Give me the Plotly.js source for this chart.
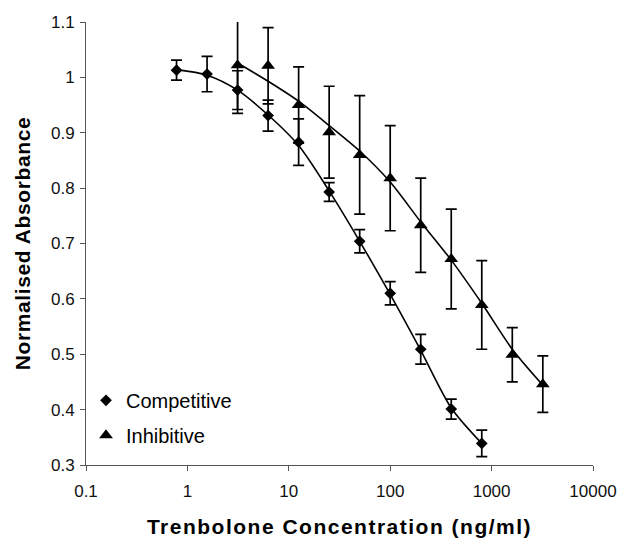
<!DOCTYPE html>
<html>
<head>
<meta charset="utf-8">
<script src="https://cdn.plot.ly/plotly-3.0.1.min.js"></script>
<style>
html, body { margin: 0; padding: 0; background: #fff; }
#chart { width: 623px; height: 538px; }
.xtitle { letter-spacing: 1.5px; }
.ytitle { letter-spacing: 0.6px; }
</style>
</head>
<body>
<div id="chart"></div>
<script>
// Concentrations (ng/ml)
const compX = [0.78125, 1.5625, 3.125, 6.25, 12.5, 25, 50, 100, 200, 400, 800];
const compY = [1.013, 1.006, 0.977, 0.931, 0.883, 0.793, 0.704, 0.610, 0.509, 0.401, 0.339];
const compErr = [0.018, 0.032, 0.035, 0.028, 0.042, 0.017, 0.021, 0.021, 0.027, 0.018, 0.024];
const compFit = [1.014, 1.004, 0.977, 0.932, 0.877, 0.795, 0.704, 0.608, 0.507, 0.403, 0.339];

const inhX = [3.125, 6.25, 12.5, 25, 50, 100, 200, 400, 800, 1600, 3200];
const inhY = [1.022, 1.021, 0.950, 0.901, 0.860, 0.818, 0.733, 0.672, 0.589, 0.499, 0.446];
const inhErr = [0.087, 0.069, 0.069, 0.083, 0.107, 0.095, 0.085, 0.090, 0.080, 0.049, 0.051];
const inhFit = [1.026, 0.993, 0.957, 0.913, 0.867, 0.811, 0.739, 0.670, 0.592, 0.509, 0.444];

const xTickVals = [0.1, 1, 10, 100, 1000, 10000];
const xTickText = ['0.1', '1', '10', '100', '1000', '10000'];
const yTickVals = [0.3, 0.4, 0.5, 0.6, 0.7, 0.8, 0.9, 1.0, 1.1];
const yTickText = ['0.3', '0.4', '0.5', '0.6', '0.7', '0.8', '0.9', '1', '1.1'];

const seriesNames = ['Competitive', 'Inhibitive'];

const traces = [
  {
    x: compX, y: compFit, mode: 'lines', type: 'scatter', showlegend: false,
    line: { color: '#000', width: 1.6, shape: 'spline', smoothing: 0.8 }, hoverinfo: 'skip'
  },
  {
    x: inhX, y: inhFit, mode: 'lines', type: 'scatter', showlegend: false,
    line: { color: '#000', width: 1.6, shape: 'spline', smoothing: 0.8 }, hoverinfo: 'skip'
  },
  {
    x: compX, y: compY, name: seriesNames[0], legendgroup: 'g1', mode: 'markers', type: 'scatter',
    marker: { symbol: 'diamond', size: 9, color: '#000' },
    error_y: { type: 'data', array: compErr, visible: true, color: '#000', thickness: 1.7, width: 5.5 }
  },
  {
    x: inhX, y: inhY, name: seriesNames[1], legendgroup: 'g2', mode: 'markers', type: 'scatter',
    marker: { symbol: 'triangle-up', size: 12, color: '#000' },
    error_y: { type: 'data', array: inhErr, visible: true, color: '#000', thickness: 1.7, width: 5.5 }
  }
];

const layout = {
  width: 623, height: 538,
  margin: { l: 86, r: 30, t: 22, b: 73 },
  paper_bgcolor: '#fff', plot_bgcolor: '#fff',
  font: { family: 'Liberation Sans, Arial, sans-serif', color: '#000', size: 17 },
  xaxis: {
    type: 'log', range: [-1, 4],
    tickvals: xTickVals, ticktext: xTickText,
    showgrid: false, zeroline: false,
    showline: true, linecolor: '#555', linewidth: 1,
    ticks: 'outside', ticklen: 5, tickcolor: '#555', tickwidth: 1,
    ticklabelstandoff: 6,
    tickfont: { size: 17, color: '#111' },
    title: { text: 'Trenbolone Concentration (ng/ml)', font: { size: 21, color: '#000', weight: 'bold' }, standoff: 26 }
  },
  yaxis: {
    range: [0.3, 1.1],
    tickvals: yTickVals, ticktext: yTickText,
    showgrid: false, zeroline: false,
    showline: true, linecolor: '#555', linewidth: 1,
    ticks: 'outside', ticklen: 5, tickcolor: '#555', tickwidth: 1,
    ticklabelstandoff: 2,
    tickfont: { size: 17, color: '#111' },
    title: { text: 'Normalised Absorbance', font: { size: 21, color: '#000', weight: 'bold' }, standoff: 14 }
  },
  legend: {
    x: 0.0, y: 0.19, xanchor: 'left', yanchor: 'top',
    bgcolor: 'rgba(0,0,0,0)', font: { size: 20, color: '#000' },
    itemwidth: 30, tracegroupgap: 6
  },
  showlegend: true
};

Plotly.newPlot('chart', traces, layout, { displayModeBar: false, staticPlot: true });
</script>
</body>
</html>
